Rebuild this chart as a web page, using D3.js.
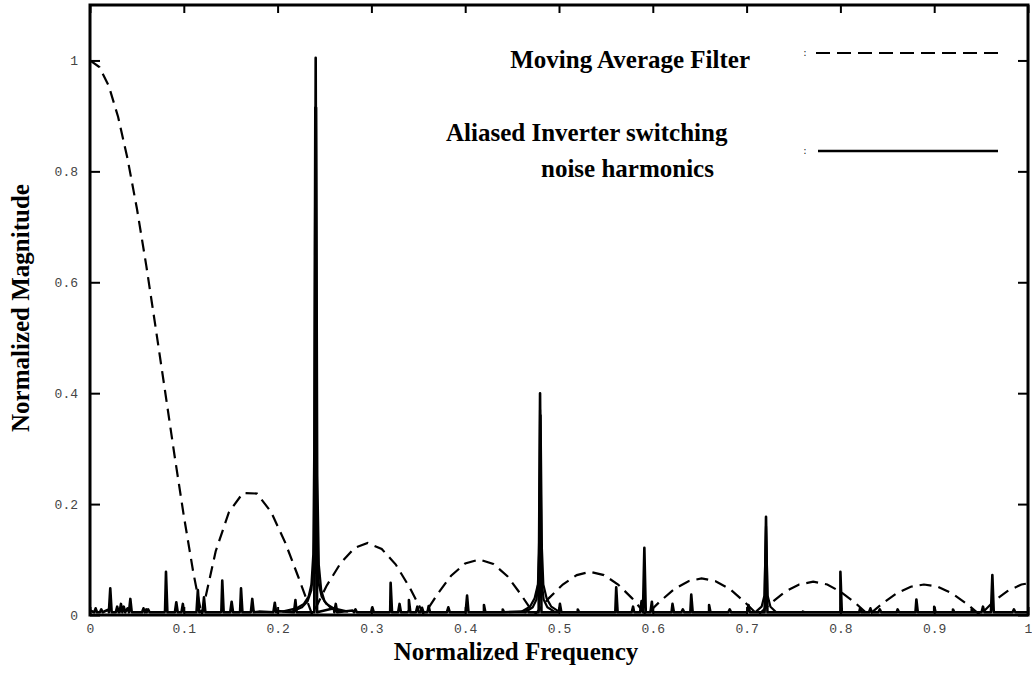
<!DOCTYPE html>
<html>
<head>
<meta charset="utf-8">
<script src="https://d3js.org/d3.v7.min.js"></script>
<style>
  body { margin: 0; background: #fff; }
  .tick text { font-family: "Liberation Mono", "DejaVu Sans Mono", monospace; font-size: 13px; fill: #444; }
  .title { font-family: "Liberation Serif", "Times New Roman", serif; font-weight: bold; font-size: 25px; fill: #000; }
</style>
</head>
<body>
<div id="chart"></div>
<script>
"use strict"

// Moving average filter response (frequency, magnitude)
var maPoints = [
    [0, 1.0], [0.01, 0.988], [0.02, 0.954], [0.03, 0.898], [0.04, 0.823], [0.05, 0.733],
    [0.06, 0.63], [0.07, 0.518], [0.08, 0.404], [0.09, 0.289], [0.10, 0.179], [0.11, 0.078], [0.119, 0],
    [0.134, 0.115], [0.148, 0.185], [0.163, 0.22], [0.178, 0.219], [0.193, 0.186], [0.208, 0.131], [0.222, 0.069], [0.237, 0],
    [0.252, 0.052], [0.267, 0.093], [0.282, 0.121], [0.296, 0.13], [0.311, 0.119], [0.326, 0.091], [0.341, 0.049], [0.356, 0],
    [0.371, 0.039], [0.385, 0.071], [0.400, 0.093], [0.415, 0.10], [0.430, 0.092], [0.445, 0.07], [0.459, 0.038], [0.474, 0],
    [0.489, 0.03], [0.504, 0.055], [0.519, 0.072], [0.533, 0.078], [0.548, 0.072], [0.563, 0.055], [0.578, 0.03], [0.593, 0],
    [0.608, 0.025], [0.623, 0.047], [0.638, 0.061], [0.652, 0.066], [0.667, 0.061], [0.682, 0.047], [0.697, 0.025], [0.712, 0],
    [0.727, 0.023], [0.741, 0.042], [0.756, 0.055], [0.771, 0.06], [0.786, 0.055], [0.800, 0.042], [0.815, 0.023], [0.830, 0],
    [0.845, 0.021], [0.860, 0.039], [0.875, 0.051], [0.889, 0.055], [0.904, 0.051], [0.919, 0.039], [0.934, 0.021], [0.949, 0],
    [0.963, 0.024], [0.978, 0.043], [0.993, 0.055], [1.0, 0.057]
];

// Noise floor of the aliased switching spectrum
var noiseFloor = [
    [0, 0.008], [0.02, 0.01], [0.04, 0.012], [0.06, 0.01], [0.08, 0.008], [0.10, 0.007], [0.12, 0.008],
    [0.14, 0.006], [0.16, 0.006], [0.18, 0.006], [0.20, 0.007], [0.22, 0.009], [0.26, 0.012], [0.28, 0.008],
    [0.30, 0.007], [0.32, 0.006], [0.34, 0.008], [0.36, 0.007], [0.38, 0.005], [0.40, 0.005], [0.42, 0.005],
    [0.44, 0.005], [0.46, 0.006], [0.50, 0.007], [0.52, 0.005], [0.54, 0.005], [0.56, 0.005], [0.58, 0.006],
    [0.60, 0.006], [0.62, 0.005], [0.64, 0.005], [0.66, 0.005], [0.68, 0.005], [0.70, 0.005], [0.74, 0.005],
    [0.76, 0.005], [0.78, 0.005], [0.80, 0.005], [0.82, 0.005], [0.84, 0.005], [0.86, 0.005], [0.88, 0.005],
    [0.90, 0.005], [0.92, 0.005], [0.94, 0.005], [0.96, 0.005], [0.98, 0.005], [1.0, 0.005]
];

// Harmonic spikes (frequency, peak)
var spikeFreq = [0.006, 0.012, 0.0216, 0.029, 0.033, 0.036, 0.043, 0.057, 0.062, 0.081, 0.092, 0.099, 0.115, 0.1215,
    0.141, 0.151, 0.161, 0.173, 0.197, 0.219, 0.2406, 0.262, 0.283, 0.301, 0.3205, 0.330, 0.340, 0.349, 0.354, 0.361,
    0.382, 0.402, 0.42, 0.44, 0.466, 0.4798, 0.501, 0.52, 0.561, 0.579, 0.588, 0.591, 0.599, 0.621, 0.632, 0.641,
    0.66, 0.682, 0.702, 0.7207, 0.76, 0.800, 0.821, 0.832, 0.842, 0.861, 0.881, 0.90, 0.92, 0.94, 0.952, 0.962, 0.985];
var spikeMag = [0.012, 0.01, 0.048, 0.015, 0.02, 0.015, 0.029, 0.012, 0.01, 0.078, 0.023, 0.02, 0.045, 0.032,
    0.062, 0.024, 0.048, 0.029, 0.022, 0.027, 1.005, 0.02, 0.01, 0.014, 0.058, 0.02, 0.027, 0.015, 0.013, 0.016,
    0.014, 0.035, 0.018, 0.01, 0.01, 0.40, 0.02, 0.01, 0.05, 0.015, 0.025, 0.121, 0.024, 0.02, 0.01, 0.037,
    0.018, 0.01, 0.018, 0.177, 0.006, 0.078, 0.012, 0.012, 0.01, 0.01, 0.028, 0.015, 0.01, 0.01, 0.015, 0.072, 0.01];

// Leakage skirts around the strong harmonics (overlaid traces)
var skirt240a = [[0.205, 0.006], [0.22, 0.012], [0.228, 0.02], [0.233, 0.033], [0.236, 0.055], [0.238, 0.11], [0.239, 0.3],
    [0.2400, 0.915], [0.241, 0.3], [0.242, 0.11], [0.244, 0.055], [0.247, 0.033], [0.252, 0.02], [0.26, 0.012], [0.275, 0.006]];
var skirt240b = [[0.215, 0.006], [0.226, 0.014], [0.232, 0.025], [0.236, 0.045], [0.2385, 0.09], [0.2400, 0.25],
    [0.2412, 0.915], [0.2424, 0.25], [0.244, 0.09], [0.2465, 0.045], [0.25, 0.025], [0.256, 0.014], [0.267, 0.006]];
var skirt480a = [[0.465, 0.006], [0.472, 0.014], [0.476, 0.028], [0.478, 0.06], [0.4790, 0.15], [0.4798, 0.37],
    [0.4806, 0.15], [0.4816, 0.06], [0.4836, 0.028], [0.4876, 0.014], [0.495, 0.006]];
var skirt480b = [[0.46, 0.006], [0.469, 0.015], [0.474, 0.03], [0.4775, 0.055], [0.4790, 0.12], [0.4804, 0.36],
    [0.4818, 0.12], [0.4833, 0.055], [0.4868, 0.03], [0.4918, 0.015], [0.50, 0.006]];
var skirt720 = [[0.71, 0.006], [0.716, 0.015], [0.719, 0.035], [0.7207, 0.16], [0.7224, 0.035], [0.7254, 0.015], [0.731, 0.006]];

var xTicks = [0, 0.1, 0.2, 0.3, 0.4, 0.5, 0.6, 0.7, 0.8, 0.9, 1];
var yTicks = [0, 0.2, 0.4, 0.6, 0.8, 1];
var legendLabels = ["Moving Average Filter", "Aliased Inverter switching", "noise harmonics"];

var width = 1032, height = 673;
var margin = { top: 5, right: 4, bottom: 58, left: 90 };
var drawWidth = width - margin.left - margin.right;
var drawHeight = height - margin.top - margin.bottom;

var svg = d3.select("#chart").append("svg")
    .attr("width", width)
    .attr("height", height);

var g = svg.append("g")
    .attr("transform", "translate(" + margin.left + "," + margin.top + ")");

var xScale = d3.scaleLinear().domain([0, 1]).range([0, drawWidth]);
var yScale = d3.scaleLinear().domain([0, 1.1]).range([drawHeight, 0]);

var line = d3.line()
    .x(function (d) { return xScale(d[0]); })
    .y(function (d) { return yScale(d[1]); });

// Solid trace: noise floor with the spikes dropped in
var spikeHalf = 0.0015;
var solidData = noiseFloor.slice();
spikeFreq.forEach(function (f, i) {
    solidData.push([f - spikeHalf, 0.005], [f, spikeMag[i]], [f + spikeHalf, 0.005]);
});
solidData.sort(function (a, b) { return a[0] - b[0]; });

g.append("clipPath").attr("id", "plotClip")
    .append("rect").attr("width", drawWidth).attr("height", drawHeight);

var plot = g.append("g").attr("clip-path", "url(#plotClip)");

[skirt240a, skirt240b, skirt480a, skirt480b, skirt720].forEach(function (s) {
    plot.append("path")
        .attr("d", line(s))
        .attr("fill", "none")
        .attr("stroke", "#000")
        .attr("stroke-width", 2.2)
        .attr("stroke-linejoin", "round");
});

plot.append("path")
    .attr("d", line(solidData))
    .attr("fill", "none")
    .attr("stroke", "#000")
    .attr("stroke-width", 2.6)
    .attr("stroke-linejoin", "round");

plot.append("path")
    .attr("d", line(maPoints))
    .attr("fill", "none")
    .attr("stroke", "#000")
    .attr("stroke-width", 2.2)
    .attr("stroke-dasharray", "12,7");

// Axes, ticks pointing inward on all four sides
var fmt = function (d) { return d3.format("")(d); };
g.append("g").attr("class", "x axis")
    .attr("transform", "translate(0," + drawHeight + ")")
    .call(d3.axisBottom(xScale).tickValues(xTicks).tickSize(-8).tickPadding(9).tickFormat(fmt));
g.append("g").attr("class", "x axis top")
    .call(d3.axisTop(xScale).tickValues(xTicks).tickSize(-8).tickFormat(""));
g.append("g").attr("class", "y axis")
    .call(d3.axisLeft(yScale).tickValues(yTicks).tickSize(-10).tickPadding(12).tickFormat(fmt));
g.append("g").attr("class", "y axis right")
    .attr("transform", "translate(" + drawWidth + ",0)")
    .call(d3.axisRight(yScale).tickValues(yTicks).tickSize(-10).tickFormat(""));

g.selectAll(".axis .domain").remove();
g.selectAll(".axis .tick line").attr("stroke", "#000").attr("stroke-width", 2);

g.append("rect")
    .attr("width", drawWidth)
    .attr("height", drawHeight)
    .attr("fill", "none")
    .attr("stroke", "#000")
    .attr("stroke-width", 3);

// Axis titles
svg.append("text").attr("class", "title")
    .attr("x", 516).attr("y", 660)
    .style("text-anchor", "middle")
    .text("Normalized Frequency");

svg.append("text").attr("class", "title")
    .attr("transform", "translate(29,308) rotate(-90)")
    .style("text-anchor", "middle")
    .text("Normalized Magnitude");

// Legend
var legend = svg.append("g").attr("class", "legend");
legend.append("text").attr("class", "title")
    .attr("x", 750).attr("y", 68).style("text-anchor", "end")
    .text(legendLabels[0]);
legend.append("text").attr("class", "title")
    .attr("x", 446).attr("y", 141)
    .text(legendLabels[1]);
legend.append("text").attr("class", "title")
    .attr("x", 541).attr("y", 177)
    .text(legendLabels[2]);

legend.append("line")
    .attr("x1", 816).attr("x2", 998).attr("y1", 53).attr("y2", 53)
    .attr("stroke", "#000").attr("stroke-width", 2.2).attr("stroke-dasharray", "14,7");
legend.append("line")
    .attr("x1", 818).attr("x2", 998).attr("y1", 151).attr("y2", 151)
    .attr("stroke", "#000").attr("stroke-width", 2.6);
legend.selectAll(".colon").data([56, 154]).enter().append("text")
    .attr("x", 805).attr("y", function (d) { return d; })
    .style("font-family", "Liberation Mono, monospace").style("font-size", "9px").style("fill", "#222")
    .style("text-anchor", "middle")
    .text(":");
</script>
</body>
</html>
